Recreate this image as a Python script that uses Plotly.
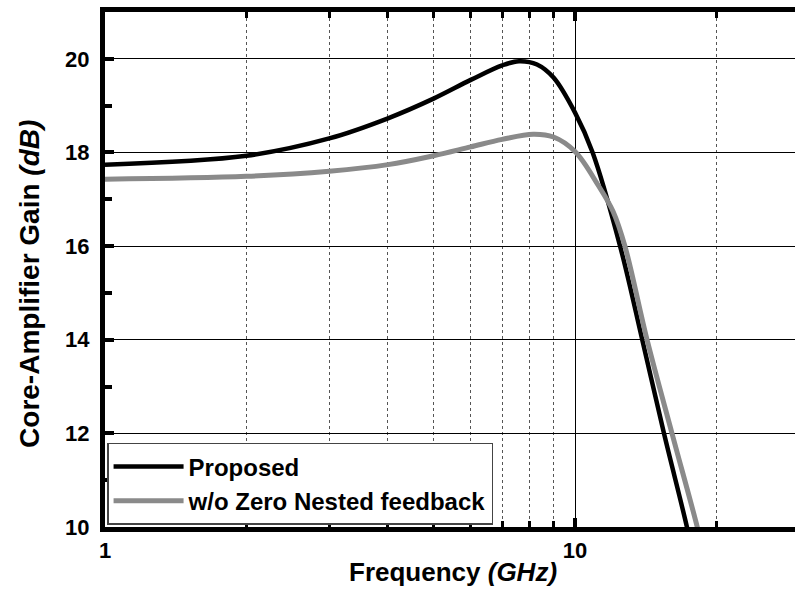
import plotly.graph_objects as go

# Frequency (GHz) and gain (dB)
freq_prop = [1.0, 2.0, 3.0, 4.0, 5.0, 6.0, 7.0, 7.6, 8.3, 9.0, 10.0, 10.9, 12.47, 13.9, 15.46, 17.3, 17.8]
gain_prop = [17.74, 17.93, 18.3, 18.73, 19.15, 19.55, 19.86, 19.95, 19.88, 19.6, 18.85, 18.0, 16.0, 14.0, 12.0, 10.0, 9.4]

freq_wo = [1.0, 2.0, 3.0, 4.0, 5.0, 6.0, 7.0, 8.15, 9.0, 10.0, 11.2, 12.05, 12.77, 14.23, 16.08, 18.2, 18.8]
gain_wo = [17.43, 17.49, 17.6, 17.74, 17.93, 18.12, 18.28, 18.39, 18.33, 18.02, 17.3, 16.74, 16.0, 14.0, 12.0, 10.0, 9.4]

y_ticks = [10, 12, 14, 16, 18, 20]

FONT = "Liberation Sans, Arial, sans-serif"

fig = go.Figure()
fig.add_trace(go.Scatter(x=freq_prop, y=gain_prop, mode="lines", name="<b>Proposed</b>",
                         line=dict(color="black", width=4.5, shape="spline", smoothing=1.0)))
fig.add_trace(go.Scatter(x=freq_wo, y=gain_wo, mode="lines", name="<b>w/o Zero Nested feedback</b>",
                         line=dict(color="#8a8a8a", width=5, shape="spline", smoothing=1.0)))

fig.update_layout(
    width=795, height=589,
    margin=dict(l=105, r=0, t=12, b=62),
    plot_bgcolor="white", paper_bgcolor="white",
    font=dict(family=FONT, color="black"),
    showlegend=True,
    legend=dict(x=0.003, y=0.004, xanchor="left", yanchor="bottom",
                bgcolor="white", bordercolor="#444", borderwidth=1.5,
                font=dict(size=24, family=FONT, color="black"),
                tracegroupgap=0, itemwidth=70),
    xaxis=dict(
        type="log", range=[0, 1.468],
        tickvals=[1, 10], ticktext=["<b>1</b>", "<b>10</b>"],
        showline=True, linecolor="black", linewidth=5, mirror="allticks",
        ticks="inside", ticklen=9, tickwidth=4, tickcolor="black",
        tickfont=dict(size=22, family=FONT),
        showgrid=True, gridcolor="black", gridwidth=1,
        zeroline=False,
        minor=dict(tickvals=[2, 3, 4, 5, 6, 7, 8, 9, 20], ticks="inside", ticklen=6, tickwidth=3,
                   tickcolor="black", showgrid=True, gridcolor="#555", griddash="3px,3px", gridwidth=1),
    ),
    yaxis=dict(
        range=[10, 21],
        tickvals=y_ticks, ticktext=[f"<b>{v}</b>" for v in y_ticks],
        showline=True, linecolor="black", linewidth=5, mirror=False,
        ticks="inside", ticklen=9, tickwidth=4, tickcolor="black",
        tickfont=dict(size=22, family=FONT), ticklabelstandoff=6,
        showgrid=True, gridcolor="black", gridwidth=1,
        zeroline=False,
        minor=dict(tickvals=[11, 13, 15, 17, 19, 21], ticks="inside", ticklen=7, tickwidth=4,
                   tickcolor="black", showgrid=False),
    ),
    annotations=[
        dict(text="<b>Frequency <i>(GHz)</i></b>", xref="paper", yref="paper",
             x=0.504, y=-0.088, xanchor="center", yanchor="middle", showarrow=False,
             font=dict(size=26, family=FONT, color="black")),
        dict(text="<b>Core-Amplifier Gain <i>(dB)</i></b>", xref="paper", yref="paper",
             x=0, y=0.472, xshift=-75, xanchor="center", yanchor="middle", textangle=-90,
             showarrow=False, font=dict(size=28, family=FONT, color="black")),
    ],
)

fig.write_html("out.html")
